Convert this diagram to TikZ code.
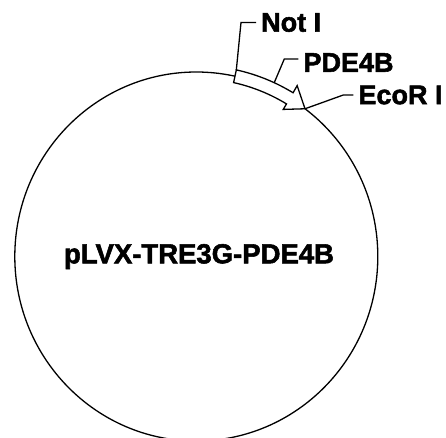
\documentclass[tikz,border=0pt]{standalone}
\usepackage{fontspec}
\setmainfont{Liberation Sans}[BoldFont={Liberation Sans Bold}, BoldFeatures={FakeBold=2}]
\usetikzlibrary{calc,positioning}

\begin{document}
\begin{tikzpicture}[x=1pt,y=1pt,
    lbl/.style={font=\fontsize{27}{30}\selectfont\bfseries,
      inner xsep=5pt, inner ysep=0pt, anchor=west},
    leader/.style={line width=1.3pt},
    gene/.style={line width=1.3pt, fill=white}
  ]
  \useasboundingbox (0,0) rectangle (446,437);
  \coordinate (c) at (196.3,180.5);
  % backbone
  \draw[line width=1.3pt] (c) ellipse [x radius=181.5, y radius=184.5];
  \node[font=\fontsize{27.5}{30}\selectfont\bfseries, inner sep=0pt, anchor=base] (name) at (199,173.7) {pLVX-TRE3G-PDE4B};
  % PDE4B insert
  \draw[gene] ($(c)+(77.7:187.9 and 191)$) coordinate (gs)
    arc[start angle=77.7, end angle=59, x radius=187.9, y radius=191]
    -- ($(c)+(59:195.8 and 199.3)$)
    -- ($(c)+(53.2:181.5 and 184.5)$) coordinate (tip)
    -- ($(c)+(59:168.8 and 171.6)$)
    -- ($(c)+(59:175.1 and 178)$)
    arc[start angle=59, end angle=77.7, x radius=175.1, y radius=178] -- cycle;
  \coordinate (pdeS) at ($(c)+(65.5:187.9 and 191)$);
  % labels
  \node[lbl] (noti) at (256,414.5) {Not I};
  \node[lbl] (pde) at (298.3,374.5) {PDE4B};
  \node[lbl] (ecori) at (353.3,342) {EcoR I};
  \coordinate (notK) at (241,414.5);
  \coordinate (pdeK) at (284.3,378);
  \coordinate (ecoK) at (343.3,342);
  \draw[leader] (gs) -- (notK) -- (noti.west);
  \draw[leader] (pdeS) -- (pdeK) -- (pdeK -| pde.west);
  \draw[leader] (tip) -- (ecoK) -- (ecori.west);
\end{tikzpicture}
\end{document}
